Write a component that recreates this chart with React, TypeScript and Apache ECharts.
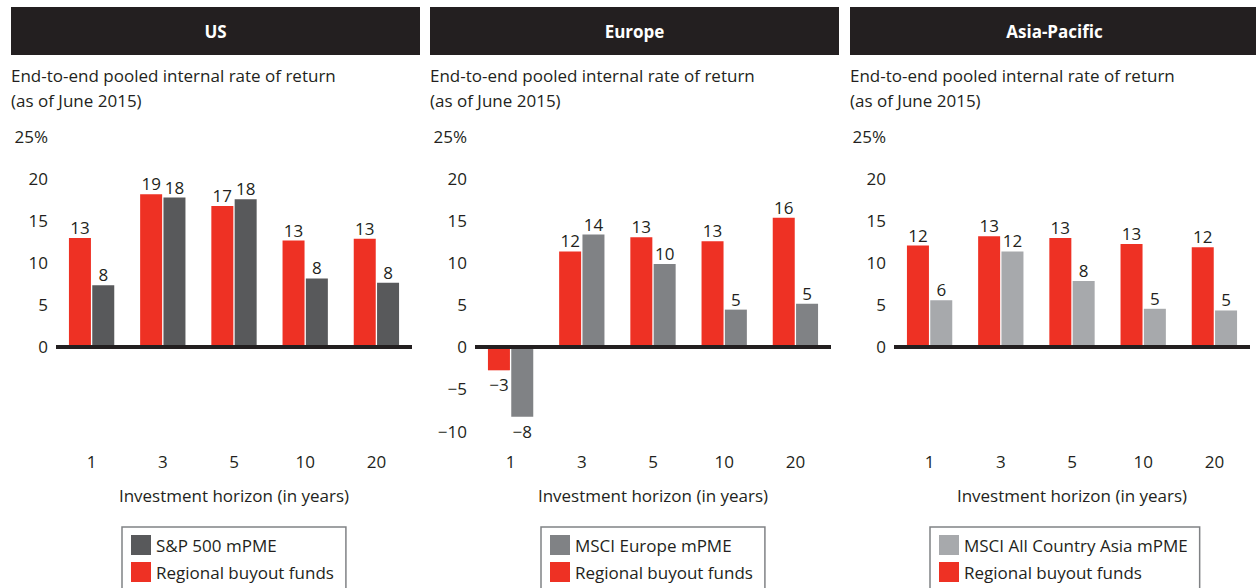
import React, { useEffect, useRef } from "react";
import * as echarts from "echarts";

const categories = ["1", "3", "5", "10", "20"];
const panelTitles = ["US", "Europe", "Asia-Pacific"];
const benchmarkNames = ["S&P 500 mPME", "MSCI Europe mPME", "MSCI All Country Asia mPME"];
const buyoutName = "Regional buyout funds";

// bar heights as drawn
const usBuyout = [12.9, 18.1, 16.7, 12.6, 12.8];
const usBench = [7.3, 17.7, 17.5, 8.1, 7.6];
const euBuyout = [-2.8, 11.3, 13.0, 12.5, 15.3];
const euBench = [-8.3, 13.3, 9.8, 4.4, 5.1];
const apBuyout = [12.0, 13.1, 12.9, 12.2, 11.8];
const apBench = [5.5, 11.3, 7.8, 4.5, 4.3];

// printed value labels
const usBuyoutLabels = ["13", "19", "17", "13", "13"];
const usBenchLabels = ["8", "18", "18", "8", "8"];
const euBuyoutLabels = ["\u22123", "12", "13", "13", "16"];
const euBenchLabels = ["\u22128", "14", "10", "5", "5"];
const apBuyoutLabels = ["12", "13", "13", "13", "12"];
const apBenchLabels = ["6", "12", "8", "5", "5"];

const RED = "#EE3124";
const GRAYS = ["#58595B", "#808285", "#A7A9AC"];
const INK = "#231F20";
const FONT = "'Open Sans', 'Noto Sans', sans-serif";
const FS = 17;

export default function App() {
  const ref = useRef<HTMLDivElement>(null);
  useEffect(() => {
    document.body.style.margin = "0";
    const chart = echarts.init(ref.current!, null, { renderer: "svg" });

    const panels = [
      { left: 56, buyout: usBuyout, bench: usBench, bl: usBuyoutLabels, gl: usBenchLabels, neg: false, legendLeft: 122 },
      { left: 475, buyout: euBuyout, bench: euBench, bl: euBuyoutLabels, gl: euBenchLabels, neg: true, legendLeft: 541 },
      { left: 894, buyout: apBuyout, bench: apBench, bl: apBuyoutLabels, gl: apBenchLabels, neg: false, legendLeft: 930 },
    ];
    const gridW = 356;
    const headerX = [11, 430, 850];
    const headerW = [409, 409, 420];

    const mkData = (vals: number[]) =>
      vals.map((v) => ({
        value: v,
        label: v < 0 ? { position: "bottom", distance: 6 } : { position: "top" },
      }));

    const grid: any[] = [];
    const xAxis: any[] = [];
    const yAxis: any[] = [];
    const series: any[] = [];
    const legend: any[] = [];
    const graphic: any[] = [];

    panels.forEach((p, i) => {
      grid.push({ left: p.left, top: 136, width: gridW, height: 295 });
      xAxis.push({
        type: "category",
        gridIndex: i,
        data: categories,
        axisLine: { show: false, onZero: false },
        axisTick: { show: false },
        axisLabel: { margin: 22, fontSize: FS, color: INK, fontFamily: FONT },
        name: "Investment horizon (in years)",
        nameLocation: "middle",
        nameGap: 56,
        nameTextStyle: { fontSize: FS, color: INK, fontFamily: FONT },
      });
      yAxis.push({
        type: "value",
        gridIndex: i,
        min: -10,
        max: 25,
        interval: 5,
        splitLine: { show: false },
        axisLine: { show: false },
        axisTick: { show: false },
        axisLabel: {
          margin: 8,
          fontSize: FS,
          color: INK,
          fontFamily: FONT,
          formatter: (v: number) => {
            if (v === 25) return "25%";
            if (v < 0) return p.neg ? "\u2212" + Math.abs(v) : "";
            return String(v);
          },
        },
      });
      const labelStyle = (labels: string[]) => ({
        show: true,
        distance: 2,
        fontSize: FS,
        color: INK,
        fontFamily: FONT,
        formatter: (prm: any) => labels[prm.dataIndex],
      });
      series.push({
        type: "bar",
        name: buyoutName,
        xAxisIndex: i,
        yAxisIndex: i,
        data: mkData(p.buyout),
        barWidth: 22,
        barGap: "6%",
        itemStyle: { color: RED },
        label: labelStyle(p.bl),
        markLine: {
          silent: true,
          symbol: ["none", "none"],
          label: { show: false },
          lineStyle: { color: INK, width: 4, type: "solid" },
          data: [{ yAxis: 0 }],
        },
      });
      series.push({
        type: "bar",
        name: benchmarkNames[i],
        xAxisIndex: i,
        yAxisIndex: i,
        data: mkData(p.bench),
        barWidth: 22,
        barGap: "6%",
        itemStyle: { color: GRAYS[i] },
        label: labelStyle(p.gl),
      });
      legend.push({
        data: [benchmarkNames[i], buyoutName],
        orient: "vertical",
        left: p.legendLeft,
        top: 527,
        height: 80,
        padding: [8, 12, 8, 9],
        itemWidth: 20,
        itemHeight: 20,
        itemGap: 7,
        icon: "rect",
        borderColor: "#808285",
        borderWidth: 1.5,
        selectedMode: false,
        textStyle: { fontSize: FS, color: INK, fontFamily: FONT },
      });
      graphic.push({
        type: "rect",
        shape: { x: headerX[i], y: 7, width: headerW[i], height: 48 },
        style: { fill: INK },
      });
      graphic.push({
        type: "text",
        x: headerX[i] + 409 / 2,
        y: 31,
        style: {
          text: panelTitles[i],
          fill: "#fff",
          font: `bold 17px ${FONT}`,
          textAlign: "center",
          textVerticalAlign: "middle",
        },
      });
      graphic.push({
        type: "text",
        x: headerX[i],
        y: 75,
        style: {
          text: "End-to-end pooled internal rate of return",
          fill: INK,
          font: `${FS}px ${FONT}`,
          textAlign: "left",
          textVerticalAlign: "middle",
        },
      });
      graphic.push({
        type: "text",
        x: headerX[i],
        y: 100,
        style: {
          text: "(as of June 2015)",
          fill: INK,
          font: `${FS}px ${FONT}`,
          textAlign: "left",
          textVerticalAlign: "middle",
        },
      });
    });

    chart.setOption({
      animation: false,
      grid,
      xAxis,
      yAxis,
      series,
      legend,
      graphic,
    });

    return () => chart.dispose();
  }, []);
  return <div ref={ref} style={{ width: 1256, height: 588 }} />;
}
